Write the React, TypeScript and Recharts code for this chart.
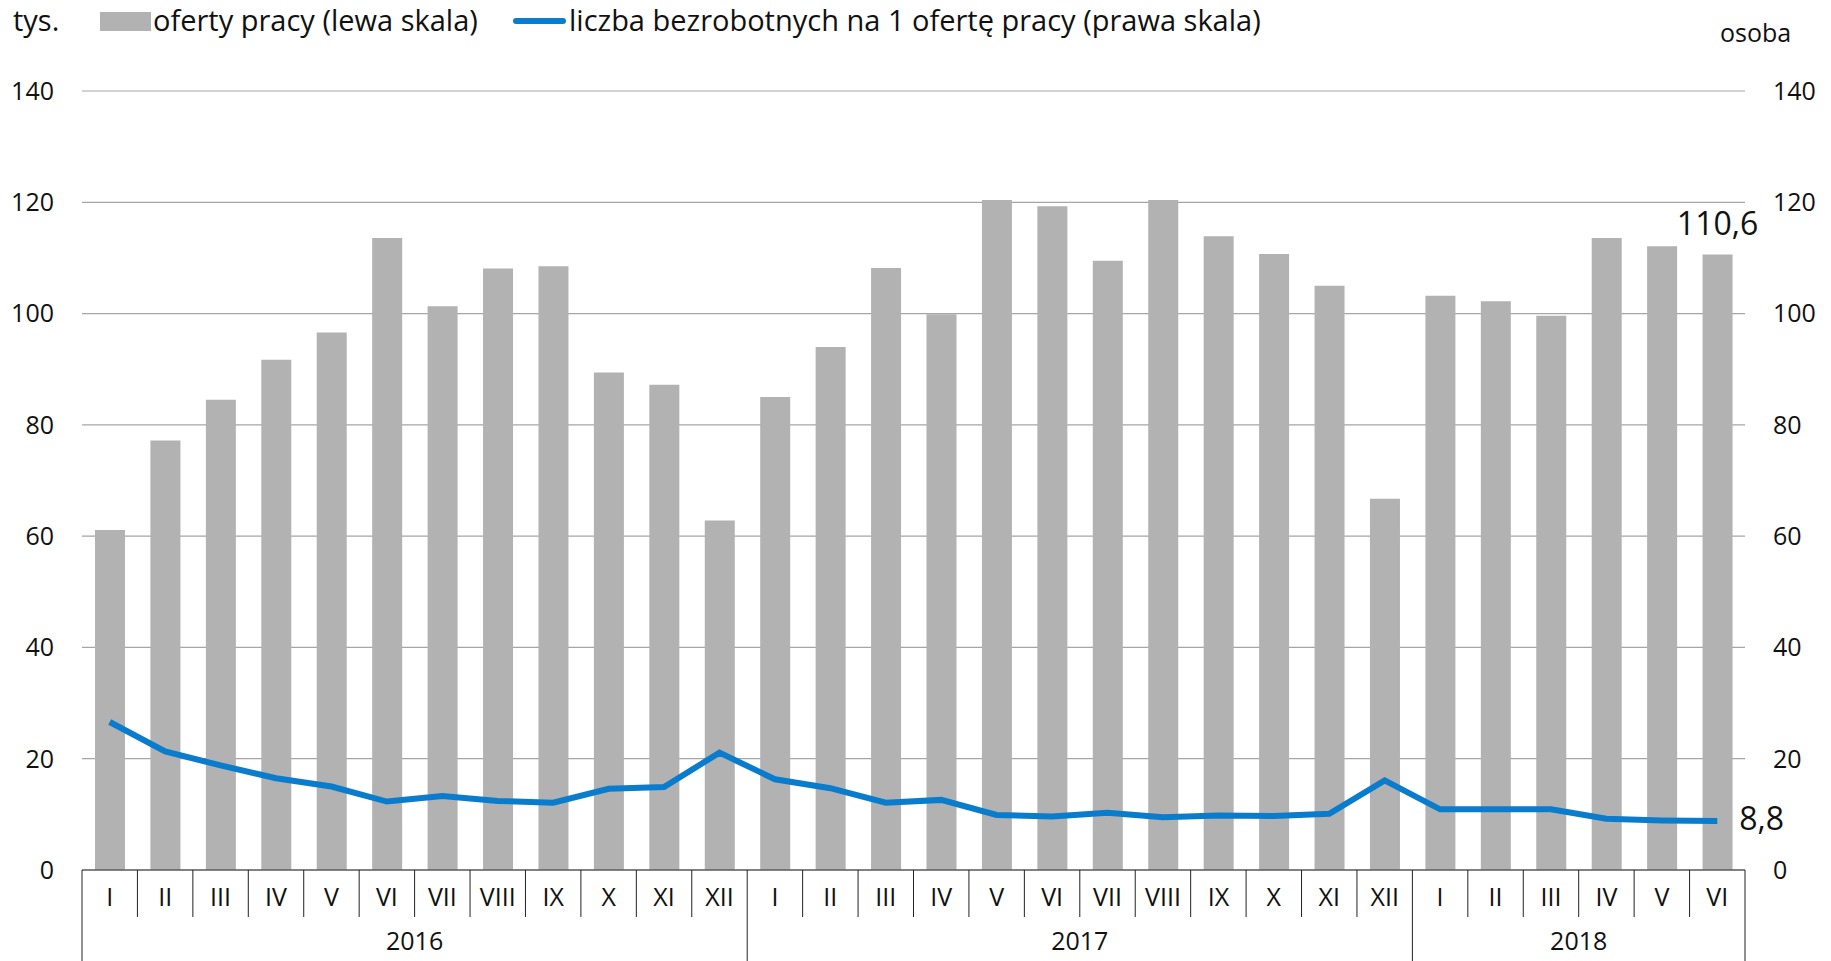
import { ComposedChart, Bar, Line, XAxis, YAxis, CartesianGrid, LabelList } from 'recharts';

const months = [
  'I', 'II', 'III', 'IV', 'V', 'VI', 'VII', 'VIII', 'IX', 'X', 'XI', 'XII',
  'I', 'II', 'III', 'IV', 'V', 'VI', 'VII', 'VIII', 'IX', 'X', 'XI', 'XII',
  'I', 'II', 'III', 'IV', 'V', 'VI',
];
const years = ['2016', '2017', '2018'];
const yearMonths = [12, 12, 6];

// oferty pracy, tys. (lewa skala)
const offers = [
  61.1, 77.2, 84.5, 91.7, 96.6, 113.6, 101.3, 108.1, 108.5, 89.4, 87.2, 62.8,
  85.0, 94.0, 108.2, 99.9, 120.4, 119.3, 109.5, 120.4, 113.9, 110.7, 105.0, 66.7,
  103.2, 102.2, 99.6, 113.6, 112.1, 110.6,
];
// liczba bezrobotnych na 1 ofertę pracy (prawa skala)
const perOffer = [
  26.6, 21.3, 18.8, 16.5, 15.0, 12.3, 13.3, 12.4, 12.1, 14.6, 14.9, 21.1,
  16.3, 14.7, 12.1, 12.6, 9.9, 9.6, 10.3, 9.5, 9.8, 9.7, 10.1, 16.1,
  10.9, 10.9, 10.9, 9.2, 8.9, 8.8,
];
const yTicks = [0, 20, 40, 60, 80, 100, 120, 140];

const data = months.map((m, i) => ({ month: m, offers: offers[i], perOffer: perOffer[i] }));

const W = 1831;
const H = 961;
const LEFT = 82;
const RIGHT_W = 86;
const TOP = 91;
const AXIS_H = 91;
const PLOT_BOTTOM = H - AXIS_H;
const STEP = (W - LEFT - RIGHT_W) / months.length;
const FONT = '"Open Sans", sans-serif';

const fmt = (v: number) => v.toFixed(1).replace('.', ',');

// start index of each year group
const yearStarts = yearMonths.map((_, k) => yearMonths.slice(0, k).reduce((a, b) => a + b, 0));

function MonthTick(props: any) {
  const { x, payload } = props;
  const i = payload.index;
  const y0 = PLOT_BOTTOM;
  const left = x - STEP / 2;
  const isYearStart = yearStarts.includes(i);
  const last = i === months.length - 1;
  const yk = yearStarts.indexOf(i);
  return (
    <g>
      <line x1={left} x2={left} y1={y0} y2={isYearStart ? H : y0 + 47} stroke="#222" strokeWidth={1} />
      {last && <line x1={x + STEP / 2} x2={x + STEP / 2} y1={y0} y2={H} stroke="#222" strokeWidth={1} />}
      <text x={x} y={y0 + 29} textAnchor="middle" dominantBaseline="middle" fontSize={25} fill="#111" fontFamily={FONT}>
        {payload.value}
      </text>
      {yk >= 0 && (
        <text
          x={left + (yearMonths[yk] * STEP) / 2}
          y={y0 + 73}
          textAnchor="middle"
          dominantBaseline="middle"
          fontSize={25}
          fill="#111"
          fontFamily={FONT}
        >
          {years[yk]}
        </text>
      )}
    </g>
  );
}

const legendText = { position: 'absolute' as const, top: 0, fontSize: 29, color: '#111', whiteSpace: 'nowrap' as const };

export default function App() {
  const lastIdx = months.length - 1;
  return (
    <div style={{ position: 'absolute', left: 0, top: 0, width: W, height: H, background: '#fff', fontFamily: FONT }}>
      <div style={{ ...legendText, left: 13 }}>tys.</div>
      <div style={{ position: 'absolute', left: 100, top: 12, width: 51, height: 19, background: '#b2b2b2' }} />
      <div style={{ ...legendText, left: 153 }}>oferty pracy (lewa skala)</div>
      <div style={{ position: 'absolute', left: 513, top: 18, width: 53, height: 6, borderRadius: 3, background: '#0a7ccd' }} />
      <div style={{ ...legendText, left: 569 }}>liczba bezrobotnych na 1 ofertę pracy (prawa skala)</div>
      <div style={{ position: 'absolute', left: 1720, top: 15, fontSize: 25, color: '#111' }}>osoba</div>
      <ComposedChart width={W} height={H} data={data} margin={{ top: TOP, right: 0, bottom: 0, left: 0 }}>
        <CartesianGrid yAxisId="left" vertical={false} stroke="#a6a6a6" strokeWidth={1.2} />
        <XAxis
          dataKey="month"
          height={AXIS_H}
          interval={0}
          tickLine={false}
          tickSize={0}
          axisLine={{ stroke: '#333', strokeWidth: 1.2 }}
          tick={<MonthTick />}
        />
        <YAxis
          yAxisId="left"
          orientation="left"
          width={LEFT}
          domain={[0, 140]}
          ticks={yTicks}
          axisLine={false}
          tickLine={false}
          tickSize={0}
          tickMargin={28}
          tick={{ fontSize: 25, fill: '#111', fontFamily: FONT }}
        />
        <YAxis
          yAxisId="right"
          orientation="right"
          width={RIGHT_W}
          domain={[0, 140]}
          ticks={yTicks}
          axisLine={false}
          tickLine={false}
          tickSize={0}
          tickMargin={28}
          tick={{ fontSize: 25, fill: '#111', fontFamily: FONT, textAnchor: 'start' }}
        />
        <Bar yAxisId="left" dataKey="offers" fill="#b2b2b2" barSize={30} isAnimationActive={false}>
          <LabelList
            dataKey="offers"
            content={(p: any) =>
              p.index === lastIdx ? (
                <text
                  x={p.x + p.width / 2}
                  y={p.y - 20}
                  textAnchor="middle"
                  fontSize={32}
                  fill="#111"
                  fontFamily={FONT}
                >
                  {fmt(p.value)}
                </text>
              ) : null
            }
          />
        </Bar>
        <Line
          yAxisId="right"
          dataKey="perOffer"
          stroke="#0a7ccd"
          strokeWidth={6}
          dot={false}
          isAnimationActive={false}
          label={(p: any) =>
            p.index === lastIdx ? (
              <text key="l" x={p.x + 22} y={p.y} dominantBaseline="middle" fontSize={32} fill="#111" fontFamily={FONT}>
                {fmt(p.value)}
              </text>
            ) : (
              <g key={p.index} />
            )
          }
        />
      </ComposedChart>
    </div>
  );
}
